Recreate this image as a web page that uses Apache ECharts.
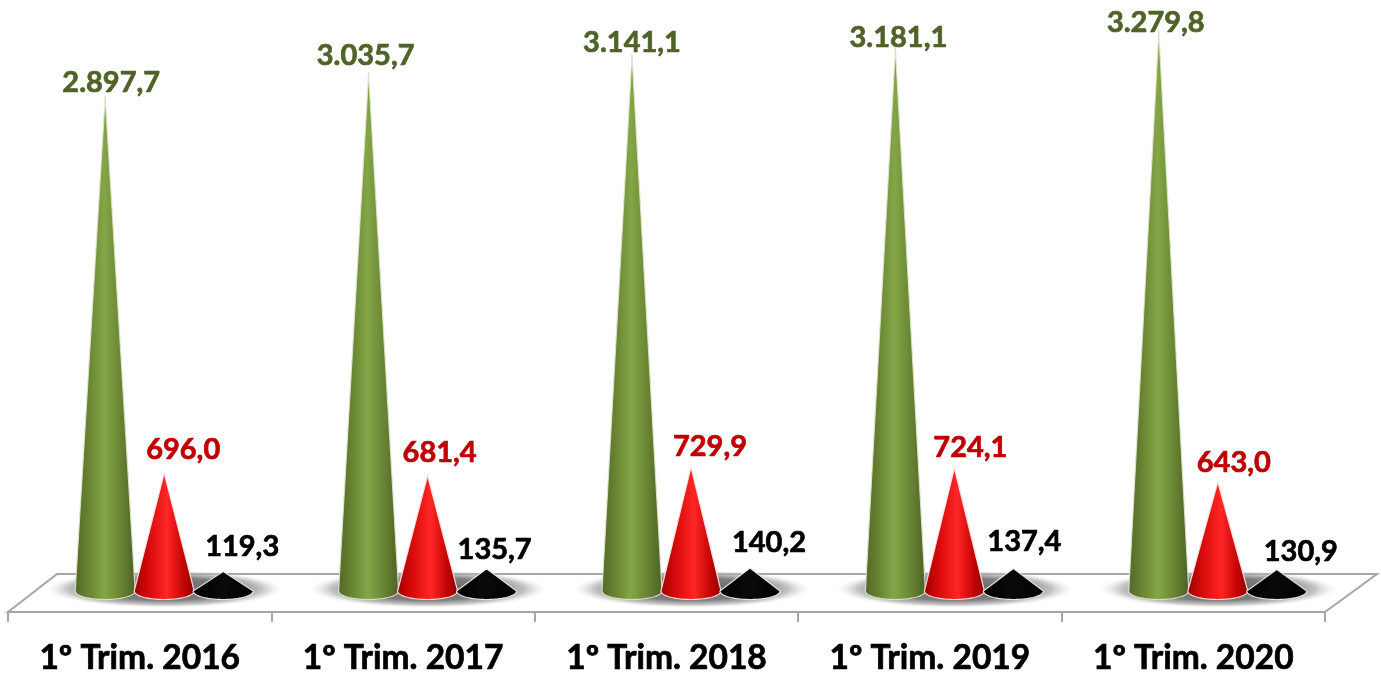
<!DOCTYPE html>
<html>
<head>
<meta charset="utf-8">
<style>html,body{margin:0;padding:0;background:#fff}#c{width:1381px;height:674px}</style>
<script src="https://cdn.jsdelivr.net/npm/echarts@6/dist/echarts.min.js"></script>
</head>
<body>
<div id="c"></div>
<script>
const categories = ['1º Trim. 2016', '1º Trim. 2017', '1º Trim. 2018', '1º Trim. 2019', '1º Trim. 2020'];
const greenValues = [2897.7, 3035.7, 3141.1, 3181.1, 3279.8];
const redValues = [696.0, 681.4, 729.9, 724.1, 643.0];
const blackValues = [119.3, 135.7, 140.2, 137.4, 130.9];

// Hand placement of the value labels, as in the source chart (px from the cone tip).
const labelNudgeX = {
  green: [6, -3, 0, 3, -3],
  red: [19, 12, 19, 16, 16],
  black: [19, 8, 19, 11, 24]
};
const labelNudgeY = {
  green: [-14, -17, -12, -10, -9],
  red: [-23, -23, -21, -21, -19],
  black: [-25, -19, -25, -27, -18]
};

const fmt = v => {
  const [i, d] = v.toFixed(1).split('.');
  return i.replace(/\B(?=(\d{3})+$)/g, '.') + ',' + d;
};
const hGrad = stops => ({
  type: 'linear', x: 0, y: 0, x2: 1, y2: 0,
  colorStops: stops.map(s => ({ offset: s[0], color: s[1] }))
});

const styles = {
  green: {
    offset: -0.131, text: '#4f6228', edge: 'rgba(225,230,205,0.9)',
    fill: hGrad([[0, '#526828'], [0.2, '#65802f'], [0.48, '#84a647'], [0.75, '#698533'], [1, '#4b5f25']])
  },
  red: {
    offset: 0.093, text: '#c00000', edge: 'rgba(255,225,225,0.95)',
    fill: hGrad([[0, '#9c0000'], [0.25, '#d80a0a'], [0.55, '#ff2626'], [0.8, '#c80606'], [1, '#8c0000']])
  },
  black: {
    offset: 0.317, text: '#000000', edge: 'rgba(235,235,235,0.95)',
    fill: hGrad([[0, '#000'], [0.5, '#0a0a0a'], [1, '#000']])
  }
};

function coneRenderer(key) {
  const st = styles[key];
  return function (params, api) {
    const idx = params.dataIndex;
    const band = api.size([1, 0])[0];
    const c = api.coord([api.value(0), api.value(1)]);
    const base = api.coord([api.value(0), 0]);
    const cx = c[0] + band * st.offset;
    const tipY = c[1];
    const baseY = base[1] - 1;
    const rx = band * 0.114, ry = 8.5;
    const pts = [[cx, tipY]];
    for (let i = 0; i <= 36; i++) {
      const a = Math.PI * i / 36;
      pts.push([cx + rx * Math.cos(a), baseY + ry * Math.sin(a)]);
    }
    const children = [{
      type: 'polygon',
      shape: { points: pts },
      style: { fill: st.fill, stroke: st.edge, lineWidth: 1.2 }
    }];
    if (key === 'green') {
      const h = 12, w = rx * h / (baseY - tipY);
      children.push({
        type: 'polygon',
        shape: { points: [[cx, tipY - 2], [cx + w + 1, tipY + h], [cx - w - 1, tipY + h]] },
        style: {
          fill: {
            type: 'linear', x: 0, y: 0, x2: 0, y2: 1,
            colorStops: [{ offset: 0, color: 'rgba(190,190,190,0.9)' }, { offset: 1, color: 'rgba(255,255,255,0)' }]
          }
        }
      });
    }
    children.push({
      type: 'text',
      z2: 100,
      style: {
        x: cx + labelNudgeX[key][idx],
        y: tipY + labelNudgeY[key][idx],
        text: fmt(api.value(1)),
        fill: st.text,
        stroke: st.text,
        lineWidth: 0.7,
        font: 'bold 29px Lato, Carlito, sans-serif',
        textAlign: 'center',
        textVerticalAlign: 'middle'
      }
    });
    return { type: 'group', children };
  };
}

function floorRenderer(params, api) {
  const s = params.coordSys;
  const front = s.y + s.height + 20;
  const back = front - 38;
  const l = s.x, r = s.x + s.width;
  return {
    type: 'polygon',
    shape: { points: [[l, front], [l + 49, back], [r + 52, back], [r, front]] },
    style: { fill: '#ffffff', stroke: '#a6a6a6', lineWidth: 2 }
  };
}

function shadowRenderer(params, api) {
  const band = api.size([1, 0])[0];
  const c = api.coord([api.value(0), 0]);
  const radius = band * 0.45;
  return {
    type: 'circle',
    x: c[0] + band * 0.095,
    y: c[1] - 3,
    scaleY: 0.16,
    shape: { cx: 0, cy: 0, r: radius },
    style: {
      fill: {
        type: 'radial', x: 0.5, y: 0.5, r: 0.5,
        colorStops: [
          { offset: 0, color: 'rgba(95,95,95,1)' },
          { offset: 0.6, color: 'rgba(120,120,120,0.95)' },
          { offset: 0.82, color: 'rgba(170,170,170,0.7)' },
          { offset: 1, color: 'rgba(230,230,230,0)' }
        ]
      }
    }
  };
}

const coneSeries = (name, key, values) => ({
  name, type: 'custom', z: 5, clip: false,
  renderItem: coneRenderer(key),
  encode: { x: 0, y: 1 },
  data: values.map((v, i) => [i, v])
});

const chart = echarts.init(document.getElementById('c'), null, { renderer: 'canvas' });
chart.setOption({
  animation: false,
  backgroundColor: '#ffffff',
  grid: { left: 8, right: 56, top: 10.6, bottom: 82, outerBoundsMode: 'none' },
  xAxis: {
    type: 'category',
    data: categories,
    offset: 20,
    z: 3,
    boundaryGap: true,
    axisLine: { show: true, onZero: false, lineStyle: { color: '#a6a6a6', width: 2 } },
    axisTick: { show: true, alignWithLabel: false, length: 10, lineStyle: { color: '#a6a6a6', width: 2 } },
    axisLabel: {
      interval: 0, margin: 29, color: '#000',
      fontFamily: 'Lato, Carlito, sans-serif', fontWeight: 'bold', fontSize: 33.5,
      textBorderColor: '#000', textBorderWidth: 0.7
    },
    splitLine: { show: false }
  },
  yAxis: { type: 'value', min: 0, max: 3400, show: false, splitLine: { show: false } },
  series: [
    { type: 'custom', name: 'Piso', z: 1, clip: false, renderItem: floorRenderer, data: [[0, 0]], encode: { x: 0, y: 1 }, silent: true },
    { type: 'custom', name: 'Sombra', z: 2, clip: false, renderItem: shadowRenderer, data: categories.map((c, i) => [i, 0]), encode: { x: 0, y: 1 }, silent: true },
    coneSeries('Verde', 'green', greenValues),
    coneSeries('Vermelho', 'red', redValues),
    coneSeries('Preto', 'black', blackValues)
  ]
});
</script>
</body>
</html>
